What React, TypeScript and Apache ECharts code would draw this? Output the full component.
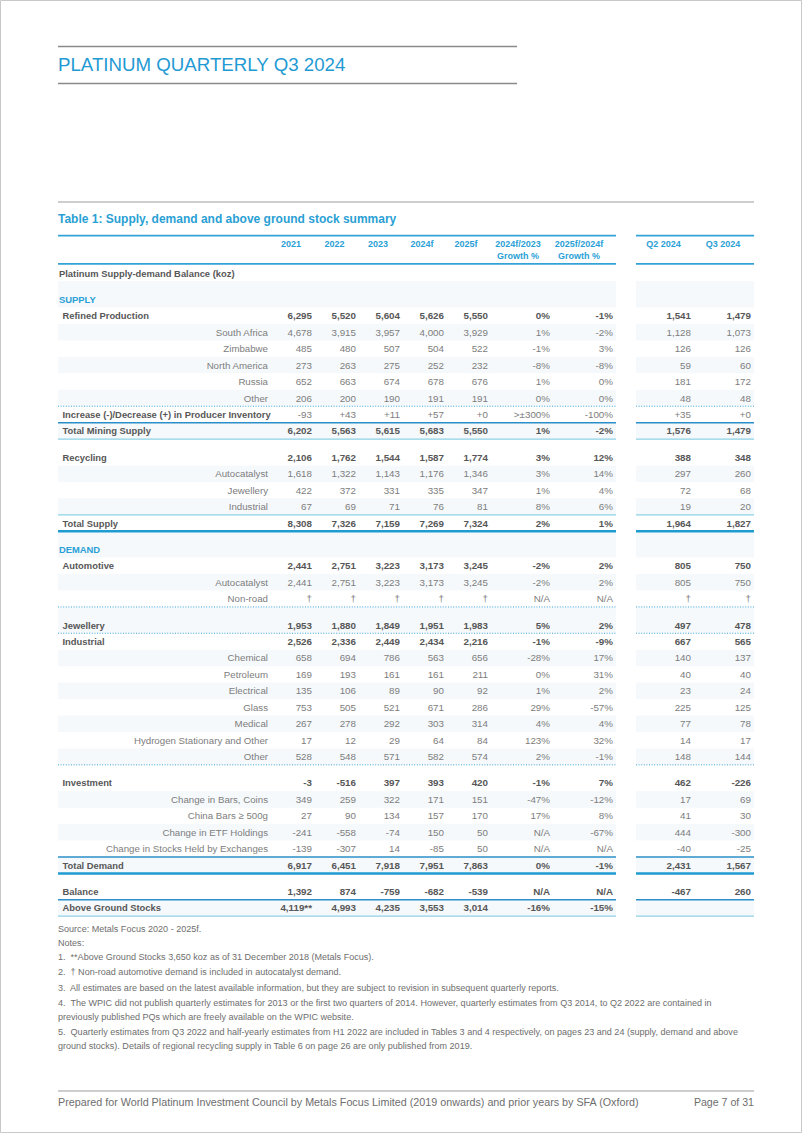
import React, { useEffect, useRef } from "react";
import * as echarts from "echarts";

type Cell = number | string | null;

// ---------- DATA ----------
const columnHeaders = ["2021", "2022", "2023", "2024f", "2025f", "2024f/2023\nGrowth %", "2025f/2024f\nGrowth %", "Q2 2024", "Q3 2024"];

const refinedProduction: Cell[] = [6295, 5520, 5604, 5626, 5550, 0, -1, 1541, 1479];
const southAfrica: Cell[] = [4678, 3915, 3957, 4000, 3929, 1, -2, 1128, 1073];
const zimbabwe: Cell[] = [485, 480, 507, 504, 522, -1, 3, 126, 126];
const northAmerica: Cell[] = [273, 263, 275, 252, 232, -8, -8, 59, 60];
const russia: Cell[] = [652, 663, 674, 678, 676, 1, 0, 181, 172];
const otherSupply: Cell[] = [206, 200, 190, 191, 191, 0, 0, 48, 48];
const producerInventory: Cell[] = [-93, "+43", "+11", "+57", "+0", ">±300%", -100, "+35", "+0"];
const totalMiningSupply: Cell[] = [6202, 5563, 5615, 5683, 5550, 1, -2, 1576, 1479];
const recycling: Cell[] = [2106, 1762, 1544, 1587, 1774, 3, 12, 388, 348];
const recyclingAutocatalyst: Cell[] = [1618, 1322, 1143, 1176, 1346, 3, 14, 297, 260];
const recyclingJewellery: Cell[] = [422, 372, 331, 335, 347, 1, 4, 72, 68];
const recyclingIndustrial: Cell[] = [67, 69, 71, 76, 81, 8, 6, 19, 20];
const totalSupply: Cell[] = [8308, 7326, 7159, 7269, 7324, 2, 1, 1964, 1827];
const automotive: Cell[] = [2441, 2751, 3223, 3173, 3245, -2, 2, 805, 750];
const autocatalystDemand: Cell[] = [2441, 2751, 3223, 3173, 3245, -2, 2, 805, 750];
const nonRoad: Cell[] = ["†", "†", "†", "†", "†", null, null, "†", "†"];
const jewellery: Cell[] = [1953, 1880, 1849, 1951, 1983, 5, 2, 497, 478];
const industrial: Cell[] = [2526, 2336, 2449, 2434, 2216, -1, -9, 667, 565];
const chemical: Cell[] = [658, 694, 786, 563, 656, -28, 17, 140, 137];
const petroleum: Cell[] = [169, 193, 161, 161, 211, 0, 31, 40, 40];
const electrical: Cell[] = [135, 106, 89, 90, 92, 1, 2, 23, 24];
const glass: Cell[] = [753, 505, 521, 671, 286, 29, -57, 225, 125];
const medical: Cell[] = [267, 278, 292, 303, 314, 4, 4, 77, 78];
const hydrogenOther: Cell[] = [17, 12, 29, 64, 84, 123, 32, 14, 17];
const otherIndustrial: Cell[] = [528, 548, 571, 582, 574, 2, -1, 148, 144];
const investment: Cell[] = [-3, -516, 397, 393, 420, -1, 7, 462, -226];
const barsCoins: Cell[] = [349, 259, 322, 171, 151, -47, -12, 17, 69];
const chinaBars: Cell[] = [27, 90, 134, 157, 170, 17, 8, 41, 30];
const etfHoldings: Cell[] = [-241, -558, -74, 150, 50, null, -67, 444, -300];
const exchangeStocks: Cell[] = [-139, -307, 14, -85, 50, null, null, -40, -25];
const totalDemand: Cell[] = [6917, 6451, 7918, 7951, 7863, 0, -1, 2431, 1567];
const balance: Cell[] = [1392, 874, -759, -682, -539, null, null, -467, 260];
const aboveGroundStocks: Cell[] = ["4,119**", 4993, 4235, 3553, 3014, -16, -15, "", ""];

const notes = [
  "Source: Metals Focus 2020 - 2025f.",
  "Notes:",
  "1.  **Above Ground Stocks 3,650 koz as of 31 December 2018 (Metals Focus).",
  "2.  † Non-road automotive demand is included in autocatalyst demand.",
  "3.  All estimates are based on the latest available information, but they are subject to revision in subsequent quarterly reports.",
  "4.  The WPIC did not publish quarterly estimates for 2013 or the first two quarters of 2014. However, quarterly estimates from Q3 2014, to Q2 2022 are contained in",
  "previously published PQs which are freely available on the WPIC website.",
  "5.  Quarterly estimates from Q3 2022 and half-yearly estimates from H1 2022 are included in Tables 3 and 4 respectively, on pages 23 and 24 (supply, demand and above",
  "ground stocks). Details of regional recycling supply in Table 6 on page 26 are only published from 2019.",
];

type Row = { label: string; kind: "caption" | "section" | "bold" | "sub"; values?: Cell[]; gap?: boolean; rule?: "dot" | "solid" | "light" | "thick"; numBold?: boolean };

const rows: Row[] = [
  { label: "Platinum Supply-demand Balance (koz)", kind: "caption" },
  { label: "SUPPLY", kind: "section", gap: true },
  { label: "Refined Production", kind: "bold", values: refinedProduction, numBold: true },
  { label: "South Africa", kind: "sub", values: southAfrica },
  { label: "Zimbabwe", kind: "sub", values: zimbabwe },
  { label: "North America", kind: "sub", values: northAmerica },
  { label: "Russia", kind: "sub", values: russia },
  { label: "Other", kind: "sub", values: otherSupply, rule: "dot" },
  { label: "Increase (-)/Decrease (+) in Producer Inventory", kind: "bold", values: producerInventory, rule: "solid" },
  { label: "Total Mining Supply", kind: "bold", values: totalMiningSupply, numBold: true, rule: "light" },
  { label: "Recycling", kind: "bold", values: recycling, numBold: true, gap: true },
  { label: "Autocatalyst", kind: "sub", values: recyclingAutocatalyst },
  { label: "Jewellery", kind: "sub", values: recyclingJewellery },
  { label: "Industrial", kind: "sub", values: recyclingIndustrial, rule: "light" },
  { label: "Total Supply", kind: "bold", values: totalSupply, numBold: true, rule: "thick" },
  { label: "DEMAND", kind: "section", gap: true },
  { label: "Automotive", kind: "bold", values: automotive, numBold: true },
  { label: "Autocatalyst", kind: "sub", values: autocatalystDemand },
  { label: "Non-road", kind: "sub", values: nonRoad, rule: "dot" },
  { label: "Jewellery", kind: "bold", values: jewellery, numBold: true, gap: true, rule: "dot" },
  { label: "Industrial", kind: "bold", values: industrial, numBold: true },
  { label: "Chemical", kind: "sub", values: chemical },
  { label: "Petroleum", kind: "sub", values: petroleum },
  { label: "Electrical", kind: "sub", values: electrical },
  { label: "Glass", kind: "sub", values: glass },
  { label: "Medical", kind: "sub", values: medical },
  { label: "Hydrogen Stationary and Other", kind: "sub", values: hydrogenOther },
  { label: "Other", kind: "sub", values: otherIndustrial, rule: "dot" },
  { label: "Investment", kind: "bold", values: investment, numBold: true, gap: true },
  { label: "Change in Bars, Coins", kind: "sub", values: barsCoins },
  { label: "China Bars ≥ 500g", kind: "sub", values: chinaBars },
  { label: "Change in ETF Holdings", kind: "sub", values: etfHoldings },
  { label: "Change in Stocks Held by Exchanges", kind: "sub", values: exchangeStocks, rule: "solid" },
  { label: "Total Demand", kind: "bold", values: totalDemand, numBold: true, rule: "thick" },
  { label: "Balance", kind: "bold", values: balance, numBold: true, gap: true, rule: "solid" },
  { label: "Above Ground Stocks", kind: "bold", values: aboveGroundStocks, numBold: true, rule: "light" },
];

// ---------- LAYOUT ----------
const FONT = "'Liberation Sans', Arial, Helvetica, sans-serif";
const GAP = 0.6;
const Y_MIN = -2.3;
const Y_MAX = 39.7;
const UNIT = 16.45;
const GRID_LEFT = 58;
const GRID_W = 696;
const GRID_TOP = 273 + Y_MIN * UNIT;
const numRight = [254, 298, 342, 386, 430, 492, 555, 633, 693];
const headCenter = [233, 276.5, 320, 364, 408, 460, 521, 605.5, 665];
const LEFT_BLOCK: [number, number] = [0, 558];
const RIGHT_BLOCK: [number, number] = [578, 696];

const BLUE = "#2a9fd6";
const DARK = "#575757";
const LIGHT = "#7d7d7d";
const STRIPE = "#f5f9fc";

const rowY: number[] = [];
{
  let y = 0;
  rows.forEach((r, i) => {
    if (i > 0) y += 1 + (r.gap ? GAP : 0);
    rowY.push(y);
  });
}

function fmt(v: Cell, col: number): string {
  if (v === null) return "N/A";
  if (typeof v === "string") return v;
  if (col === 5 || col === 6) return `${v}%`;
  return v.toLocaleString("en-US");
}

const ruleStyles: Record<string, any> = {
  dot: { stroke: "#3fa6da", lineWidth: 1, lineDash: [1, 1.6] },
  solid: { stroke: "#2a8fc8", lineWidth: 1.4 },
  light: { stroke: "#8dd2e6", lineWidth: 1.2 },
  thick: { stroke: "#1f9bd0", lineWidth: 2.6 },
};

export default function App() {
  const ref = useRef<HTMLDivElement>(null);
  useEffect(() => {
    if (!ref.current) return;
    const chart = echarts.init(ref.current, null, { renderer: "svg" });

    const rowData = rows.map((_, i) => [0, rowY[i]]);

    const stripeSeries = {
      type: "custom",
      coordinateSystem: "cartesian2d",
      z: 1,
      clip: false,
      silent: true,
      data: rowData,
      renderItem: (params: any, api: any) => {
        const i = params.dataIndex;
        if (i % 2 === 0) return { type: "group", children: [] };
        const r = rows[i];
        const top = rowY[i] - 0.5 - (r.gap ? GAP : 0);
        const bottom = rowY[i] + 0.5;
        const children: any[] = [];
        [LEFT_BLOCK, RIGHT_BLOCK].forEach((b) => {
          const p0 = api.coord([b[0], top]);
          const p1 = api.coord([b[1], bottom]);
          children.push({ type: "rect", shape: { x: p0[0], y: p0[1], width: p1[0] - p0[0], height: p1[1] - p0[1] }, style: { fill: STRIPE } });
        });
        return { type: "group", children };
      },
    };

    const cellSeries = {
      type: "custom",
      coordinateSystem: "cartesian2d",
      z: 3,
      clip: false,
      silent: true,
      data: rowData,
      renderItem: (params: any, api: any) => {
        const i = params.dataIndex;
        const r = rows[i];
        const y = rowY[i];
        const children: any[] = [];
        const bold = r.kind !== "sub";
        let lx = 1;
        let align = "left";
        if (r.kind === "bold") lx = 4.5;
        if (r.kind === "sub") { lx = 210; align = "right"; }
        const lp = api.coord([lx, y]);
        children.push({
          type: "text", x: lp[0], y: lp[1],
          style: {
            text: r.label, textAlign: align, textVerticalAlign: "middle",
            font: `${bold ? "bold " : ""}${bold ? 9.4 : 9.7}px ${FONT}`,
            fill: r.kind === "section" ? BLUE : bold ? DARK : LIGHT,
          },
        });
        if (r.values) {
          r.values.forEach((v, c) => {
            const p = api.coord([numRight[c], y]);
            children.push({
              type: "text", x: p[0], y: p[1],
              style: {
                text: fmt(v, c), textAlign: "right", textVerticalAlign: "middle",
                font: `${r.numBold ? "bold " : ""}9.8px ${FONT}`,
                fill: r.numBold ? DARK : LIGHT,
              },
            });
          });
        }
        if (r.rule) {
          [LEFT_BLOCK, RIGHT_BLOCK].forEach((b) => {
            const p0 = api.coord([b[0], y + 0.5]);
            const p1 = api.coord([b[1], y + 0.5]);
            children.push({ type: "line", shape: { x1: p0[0], y1: p0[1], x2: p1[0], y2: p1[1] }, style: { ...ruleStyles[r.rule!] } });
          });
        }
        return { type: "group", children };
      },
    };

    const headerSeries = {
      type: "custom",
      coordinateSystem: "cartesian2d",
      z: 3,
      clip: false,
      silent: true,
      data: columnHeaders.map((_, c) => [headCenter[c], -1.5]),
      renderItem: (params: any, api: any) => {
        const c = params.dataIndex;
        const children: any[] = [];
        const twoLine = columnHeaders[c].includes("\n");
        const p = api.coord([headCenter[c], twoLine ? -1.405 : -1.77]);
        children.push({
          type: "text", x: p[0], y: p[1],
          style: {
            text: columnHeaders[c], textAlign: "center", textVerticalAlign: "middle",
            font: `bold 9px ${FONT}`, fill: BLUE, lineHeight: 12,
          },
        });
        if (c === 0) {
          [LEFT_BLOCK, RIGHT_BLOCK].forEach((b) => {
            [Y_MIN + 0.03, -0.55].forEach((yy) => {
              const p0 = api.coord([b[0], yy]);
              const p1 = api.coord([b[1], yy]);
              children.push({ type: "line", shape: { x1: p0[0], y1: p0[1], x2: p1[0], y2: p1[1] }, style: { stroke: "#33a3d7", lineWidth: 1.8 } });
            });
          });
        }
        return { type: "group", children };
      },
    };

    const noteY = [929, 943, 957, 972, 988, 1003, 1017, 1032, 1046];
    const graphic: any[] = [
      { type: "rect", shape: { x: 0.5, y: 0.5, width: 801, height: 1132 }, style: { fill: "none", stroke: "#c9c9c9", lineWidth: 1 } },
      { type: "line", shape: { x1: 58, y1: 46.5, x2: 517, y2: 46.5 }, style: { stroke: "#8a8a8a", lineWidth: 1.3 } },
      { type: "line", shape: { x1: 58, y1: 83.5, x2: 517, y2: 83.5 }, style: { stroke: "#8a8a8a", lineWidth: 1.3 } },
      { type: "text", x: 58, y: 64.5, style: { text: "PLATINUM QUARTERLY Q3 2024", font: `18.7px ${FONT}`, fill: "#1f9ad3", textVerticalAlign: "middle" } },
      { type: "line", shape: { x1: 58, y1: 202, x2: 754, y2: 202 }, style: { stroke: "#9d9d9d", lineWidth: 1 } },
      { type: "text", x: 58, y: 218.5, style: { text: "Table 1: Supply, demand and above ground stock summary", font: `bold 12px ${FONT}`, fill: "#2a9fd4", textVerticalAlign: "middle" } },
      ...notes.map((t, k) => ({ type: "text", x: 58, y: noteY[k], style: { text: t, font: `9.05px ${FONT}`, fill: "#6e6e6e", textVerticalAlign: "middle" } })),
      { type: "line", shape: { x1: 58, y1: 1091, x2: 754, y2: 1091 }, style: { stroke: "#9d9d9d", lineWidth: 1 } },
      { type: "text", x: 58, y: 1101.5, style: { text: "Prepared for World Platinum Investment Council by Metals Focus Limited (2019 onwards) and prior years by SFA (Oxford)", font: `10.75px ${FONT}`, fill: "#6e6e6e", textVerticalAlign: "middle" } },
      { type: "text", x: 754, y: 1101.5, style: { text: "Page 7 of 31", font: `10.6px ${FONT}`, fill: "#6e6e6e", textAlign: "right", textVerticalAlign: "middle" } },
    ];

    chart.setOption({
      animation: false,
      backgroundColor: "#ffffff",
      grid: { left: GRID_LEFT, top: GRID_TOP, width: GRID_W, height: (Y_MAX - Y_MIN) * UNIT, containLabel: false },
      xAxis: { type: "value", min: 0, max: GRID_W, show: false },
      yAxis: { type: "value", min: Y_MIN, max: Y_MAX, inverse: true, show: false },
      series: [stripeSeries, headerSeries, cellSeries],
      graphic,
    });
    return () => chart.dispose();
  }, []);

  return <div ref={ref} style={{ position: "absolute", left: 0, top: 0, width: 802, height: 1133, background: "#fff" }} />;
}
